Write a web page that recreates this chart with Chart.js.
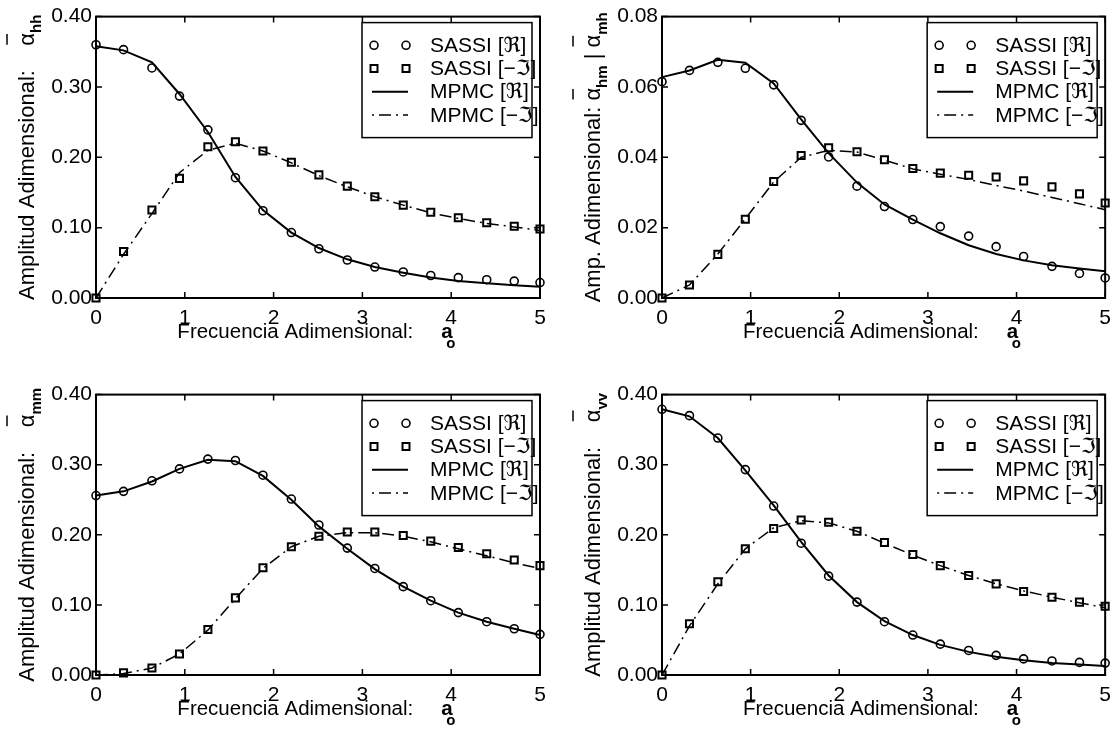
<!DOCTYPE html>
<html>
<head>
<meta charset="utf-8">
<script src="https://cdn.jsdelivr.net/npm/chart.js@4/dist/chart.umd.min.js"></script>
<style>
  body { margin: 0; background: #fff; }
  #lienzo { position: relative; width: 1119px; height: 740px; background: #fff; }
  canvas { position: absolute; }
</style>
</head>
<body>
<div id="lienzo">
  <canvas id="hh" width="559" height="370" style="left:0;top:0"></canvas>
  <canvas id="hm" width="553" height="370" style="left:566px;top:0"></canvas>
  <canvas id="mm" width="559" height="362" style="left:0;top:378px"></canvas>
  <canvas id="vv" width="553" height="362" style="left:566px;top:378px"></canvas>
</div>
<script>
// Frecuencia adimensional a_o (mismos puntos para SASSI y MPMC)
const frecuencias = [0, 0.31, 0.63, 0.94, 1.26, 1.57, 1.88, 2.20, 2.51, 2.83, 3.14, 3.46, 3.77, 4.08, 4.40, 4.71, 5.00];
const ticksX = [0, 1, 2, 3, 4, 5];
const ticksY = [0, 0.10, 0.20, 0.30, 0.40];
const ticksYhm = [0, 0.02, 0.04, 0.06, 0.08];

const etiquetas = ["SASSI [\u211C]", "SASSI [\u2212\u2111]", "MPMC [\u211C]", "MPMC [\u2212\u2111]"];

// alfa_hh
const sassiReHH = [0.360, 0.353, 0.327, 0.287, 0.239, 0.171, 0.124, 0.093, 0.070, 0.054, 0.044, 0.037, 0.032, 0.029, 0.026, 0.024, 0.022];
const sassiImHH = [0.000, 0.066, 0.125, 0.170, 0.215, 0.222, 0.209, 0.193, 0.175, 0.159, 0.144, 0.132, 0.122, 0.114, 0.107, 0.102, 0.098];
const mpmcReHH  = [0.358, 0.352, 0.335, 0.290, 0.236, 0.172, 0.125, 0.093, 0.071, 0.055, 0.044, 0.036, 0.029, 0.024, 0.021, 0.018, 0.016];
const mpmcImHH  = [0.000, 0.062, 0.120, 0.178, 0.210, 0.220, 0.209, 0.192, 0.174, 0.158, 0.144, 0.132, 0.121, 0.113, 0.106, 0.101, 0.096];

// alfa_hm | alfa_mh
const sassiReHM = [0.0615, 0.0647, 0.0670, 0.0653, 0.0606, 0.0505, 0.0401, 0.0318, 0.0260, 0.0223, 0.0203, 0.0176, 0.0146, 0.0118, 0.0090, 0.0070, 0.0057];
const sassiImHM = [0.0000, 0.0037, 0.0124, 0.0224, 0.0331, 0.0405, 0.0427, 0.0416, 0.0393, 0.0368, 0.0355, 0.0349, 0.0344, 0.0333, 0.0316, 0.0296, 0.0270];
const mpmcReHM  = [0.0628, 0.0647, 0.0677, 0.0669, 0.0610, 0.0508, 0.0412, 0.0328, 0.0266, 0.0223, 0.0184, 0.0150, 0.0125, 0.0107, 0.0093, 0.0084, 0.0076];
const mpmcImHM  = [0.0000, 0.0037, 0.0125, 0.0225, 0.0330, 0.0400, 0.0420, 0.0415, 0.0392, 0.0367, 0.0352, 0.0337, 0.0320, 0.0304, 0.0286, 0.0268, 0.0251];

// alfa_mm
const sassiReMM = [0.256, 0.262, 0.277, 0.294, 0.308, 0.306, 0.285, 0.251, 0.214, 0.181, 0.152, 0.126, 0.106, 0.089, 0.076, 0.066, 0.058];
const sassiImMM = [0.000, 0.003, 0.010, 0.030, 0.065, 0.110, 0.153, 0.183, 0.198, 0.204, 0.204, 0.199, 0.191, 0.182, 0.173, 0.164, 0.156];
const mpmcReMM  = [0.256, 0.262, 0.276, 0.294, 0.307, 0.305, 0.284, 0.250, 0.212, 0.180, 0.151, 0.126, 0.106, 0.089, 0.076, 0.066, 0.057];
const mpmcImMM  = [0.000, 0.002, 0.010, 0.030, 0.064, 0.109, 0.152, 0.183, 0.198, 0.203, 0.203, 0.198, 0.190, 0.180, 0.170, 0.160, 0.152];

// alfa_vv
const sassiReVV = [0.379, 0.370, 0.338, 0.293, 0.241, 0.188, 0.141, 0.104, 0.076, 0.057, 0.044, 0.035, 0.028, 0.023, 0.020, 0.018, 0.017];
const sassiImVV = [0.000, 0.073, 0.133, 0.180, 0.209, 0.221, 0.218, 0.205, 0.189, 0.172, 0.156, 0.142, 0.130, 0.119, 0.111, 0.104, 0.098];
const mpmcReVV  = [0.379, 0.369, 0.338, 0.292, 0.242, 0.190, 0.142, 0.104, 0.077, 0.057, 0.043, 0.033, 0.026, 0.021, 0.017, 0.015, 0.013];
const mpmcImVV  = [0.000, 0.070, 0.130, 0.180, 0.210, 0.220, 0.217, 0.205, 0.188, 0.171, 0.156, 0.142, 0.130, 0.120, 0.111, 0.103, 0.096];

const FUENTE = "'Liberation Sans', Arial, 'DejaVu Sans', sans-serif";
const RAYA_PUNTO = [12, 5, 2, 5];
Chart.defaults.font.family = FUENTE;
Chart.defaults.font.size = 21;
Chart.defaults.color = "#000";

function puntos(serie) {
  return frecuencias.map((f, i) => ({ x: f, y: serie[i] }));
}

// marco del eje con marcas hacia dentro en los cuatro lados
const marco = {
  id: "marco",
  afterDatasetsDraw(chart, args, opts) {
    const { ctx, chartArea: a, scales } = chart;
    const largo = 6;
    ctx.save();
    ctx.strokeStyle = "#000";
    ctx.lineWidth = 1.5;
    ctx.beginPath();
    opts.ticksX.forEach(v => {
      const px = scales.x.getPixelForValue(v);
      ctx.moveTo(px, a.bottom); ctx.lineTo(px, a.bottom - largo);
      ctx.moveTo(px, a.top); ctx.lineTo(px, a.top + largo);
    });
    opts.ticksY.forEach(v => {
      const py = scales.y.getPixelForValue(v);
      ctx.moveTo(a.left, py); ctx.lineTo(a.left + largo, py);
      ctx.moveTo(a.right, py); ctx.lineTo(a.right - largo, py);
    });
    ctx.stroke();
    ctx.lineWidth = 2;
    ctx.strokeRect(a.left, a.top, a.right - a.left, a.bottom - a.top);
    ctx.restore();
  }
};

function marcador(ctx, estilo, x, y) {
  ctx.beginPath();
  if (estilo === "circle") {
    ctx.lineWidth = 1.6;
    ctx.arc(x, y, 4, 0, Math.PI * 2);
  } else {
    ctx.lineWidth = 2;
    ctx.rect(x - 3.5, y - 3.5, 7, 7);
  }
  ctx.stroke();
}

// leyenda en la esquina superior derecha
const leyenda = {
  id: "leyenda",
  afterDraw(chart) {
    const { ctx, chartArea: a } = chart;
    const ancho = 170, alto = 115;
    const x0 = a.right - 8 - ancho, y0 = a.top + 6;
    ctx.save();
    ctx.fillStyle = "#fff";
    ctx.fillRect(x0, y0, ancho, alto);
    ctx.strokeStyle = "#000";
    ctx.lineWidth = 1.5;
    ctx.strokeRect(x0, y0, ancho, alto);
    ctx.font = "21px " + FUENTE;
    ctx.fillStyle = "#000";
    ctx.textBaseline = "middle";
    chart.data.datasets.forEach((ds, i) => {
      const y = y0 + 22.7 + i * 23.2;
      if (ds.showLine === false) {
        marcador(ctx, ds.pointStyle, x0 + 12, y);
        marcador(ctx, ds.pointStyle, x0 + 44, y);
      } else {
        ctx.beginPath();
        ctx.lineWidth = ds.borderWidth;
        ctx.setLineDash(ds.borderDash || []);
        ctx.lineDashOffset = ds.borderDash ? 17 : 0;
        ctx.moveTo(x0 + 10, y);
        ctx.lineTo(x0 + 46, y);
        ctx.stroke();
        ctx.setLineDash([]);
      }
      ctx.fillText(ds.label, x0 + 68, y + 1);
    });
    ctx.restore();
  }
};

// titulos de los ejes (con barra sobre alfa y subindices en negrita)
const titulos = {
  id: "titulos",
  afterDraw(chart, args, opts) {
    const { ctx, chartArea: a } = chart;
    const normalX = "20.5px " + FUENTE;
    const normalY = "22px " + FUENTE;
    const subB = "bold 15px " + FUENTE;
    ctx.save();
    ctx.fillStyle = "#000";
    ctx.strokeStyle = "#000";
    ctx.textBaseline = "alphabetic";

    // eje x: Frecuencia Adimensional:  a_o
    const t1 = "Frecuencia Adimensional:";
    ctx.font = normalX;
    const w1 = ctx.measureText(t1).width;
    ctx.font = "bold 20.5px " + FUENTE;
    const wa = ctx.measureText("a").width;
    const hueco = 28;
    const total = w1 + hueco + wa + 6;
    let x = (a.left + a.right) / 2 - total / 2;
    const yb = a.bottom + 40;
    ctx.font = normalX;
    ctx.fillText(t1, x, yb);
    x += w1 + hueco;
    ctx.font = "bold 20.5px " + FUENTE;
    ctx.fillText("a", x, yb);
    ctx.font = subB;
    ctx.fillText("o", x + 5, yb + 10);

    // eje y, texto girado
    const partes = opts.partes;
    ctx.translate(a.left - 62, (a.top + a.bottom) / 2);
    ctx.rotate(-Math.PI / 2);
    let ancho = 0;
    const anchos = partes.map(p => {
      ctx.font = p.sub ? subB : normalY;
      const w = ctx.measureText(p.t).width;
      ancho += w;
      return w;
    });
    let px = -ancho / 2;
    partes.forEach((p, i) => {
      ctx.font = p.sub ? subB : normalY;
      ctx.fillText(p.t, px, p.sub ? 7 : 0);
      if (p.barra) {
        ctx.lineWidth = 1.5;
        ctx.beginPath();
        ctx.moveTo(px + 1, -27);
        ctx.lineTo(px + anchos[i] - 1, -27);
        ctx.stroke();
      }
      px += anchos[i];
    });
    ctx.restore();
  }
};

function crearGrafico(id, series, yMax, yPaso, ticksYv, tituloY, altoArea) {
  const lienzo = document.getElementById(id);
  const W = lienzo.width, H = lienzo.height;
  return new Chart(lienzo.getContext("2d"), {
    type: "line",
    data: {
      datasets: [
        { label: etiquetas[0], data: puntos(series[0]), showLine: false, pointStyle: "circle",
          pointRadius: 4, pointBorderWidth: 1.6, pointBorderColor: "#000",
          pointBackgroundColor: "rgba(0,0,0,0)", clip: false, order: 1 },
        { label: etiquetas[1], data: puntos(series[1]), showLine: false, pointStyle: "rect",
          pointRadius: 5, pointBorderWidth: 2, pointBorderColor: "#000",
          pointBackgroundColor: "rgba(0,0,0,0)", clip: false, order: 2 },
        { label: etiquetas[2], data: puntos(series[2]), borderColor: "#000", borderWidth: 2,
          pointRadius: 0, tension: 0, clip: false, order: 3 },
        { label: etiquetas[3], data: puntos(series[3]), borderColor: "#000", borderWidth: 1.5,
          borderDash: RAYA_PUNTO, pointRadius: 0, tension: 0, clip: false, order: 4 }
      ]
    },
    options: {
      responsive: false,
      animation: false,
      events: [],
      layout: { padding: { top: 14, left: 0, right: W - 540, bottom: H - 14 - altoArea - 60 } },
      plugins: {
        legend: { display: false },
        tooltip: { enabled: false },
        marco: { ticksX: ticksX, ticksY: ticksYv },
        titulos: { partes: tituloY }
      },
      scales: {
        x: {
          type: "linear", min: 0, max: 5,
          grid: { display: false, drawTicks: false }, border: { display: false },
          ticks: { stepSize: 1, padding: 8, maxRotation: 0, autoSkip: false },
          afterFit: s => { s.height = 60; }
        },
        y: {
          min: 0, max: yMax,
          grid: { display: false, drawTicks: false }, border: { display: false },
          ticks: { stepSize: yPaso, padding: 4, callback: v => v.toFixed(2) },
          afterFit: s => { s.width = 96; }
        }
      }
    },
    plugins: [marco, leyenda, titulos]
  });
}

crearGrafico("hh", [sassiReHH, sassiImHH, mpmcReHH, mpmcImHH], 0.40, 0.10, ticksY,
  [{ t: "Amplitud Adimensional:    " }, { t: "\u03B1", barra: true }, { t: "hh", sub: true }], 284);
crearGrafico("hm", [sassiReHM, sassiImHM, mpmcReHM, mpmcImHM], 0.08, 0.02, ticksYhm,
  [{ t: "Amp. Adimensional: " }, { t: "\u03B1", barra: true }, { t: "hm", sub: true },
   { t: " | " }, { t: "\u03B1", barra: true }, { t: "mh", sub: true }], 284);
crearGrafico("mm", [sassiReMM, sassiImMM, mpmcReMM, mpmcImMM], 0.40, 0.10, ticksY,
  [{ t: "Amplitud Adimensional:    " }, { t: "\u03B1", barra: true }, { t: "mm", sub: true }], 283);
crearGrafico("vv", [sassiReVV, sassiImVV, mpmcReVV, mpmcImVV], 0.40, 0.10, ticksY,
  [{ t: "Amplitud Adimensional:    " }, { t: "\u03B1", barra: true }, { t: "vv", sub: true }], 283);
</script>
</body>
</html>
